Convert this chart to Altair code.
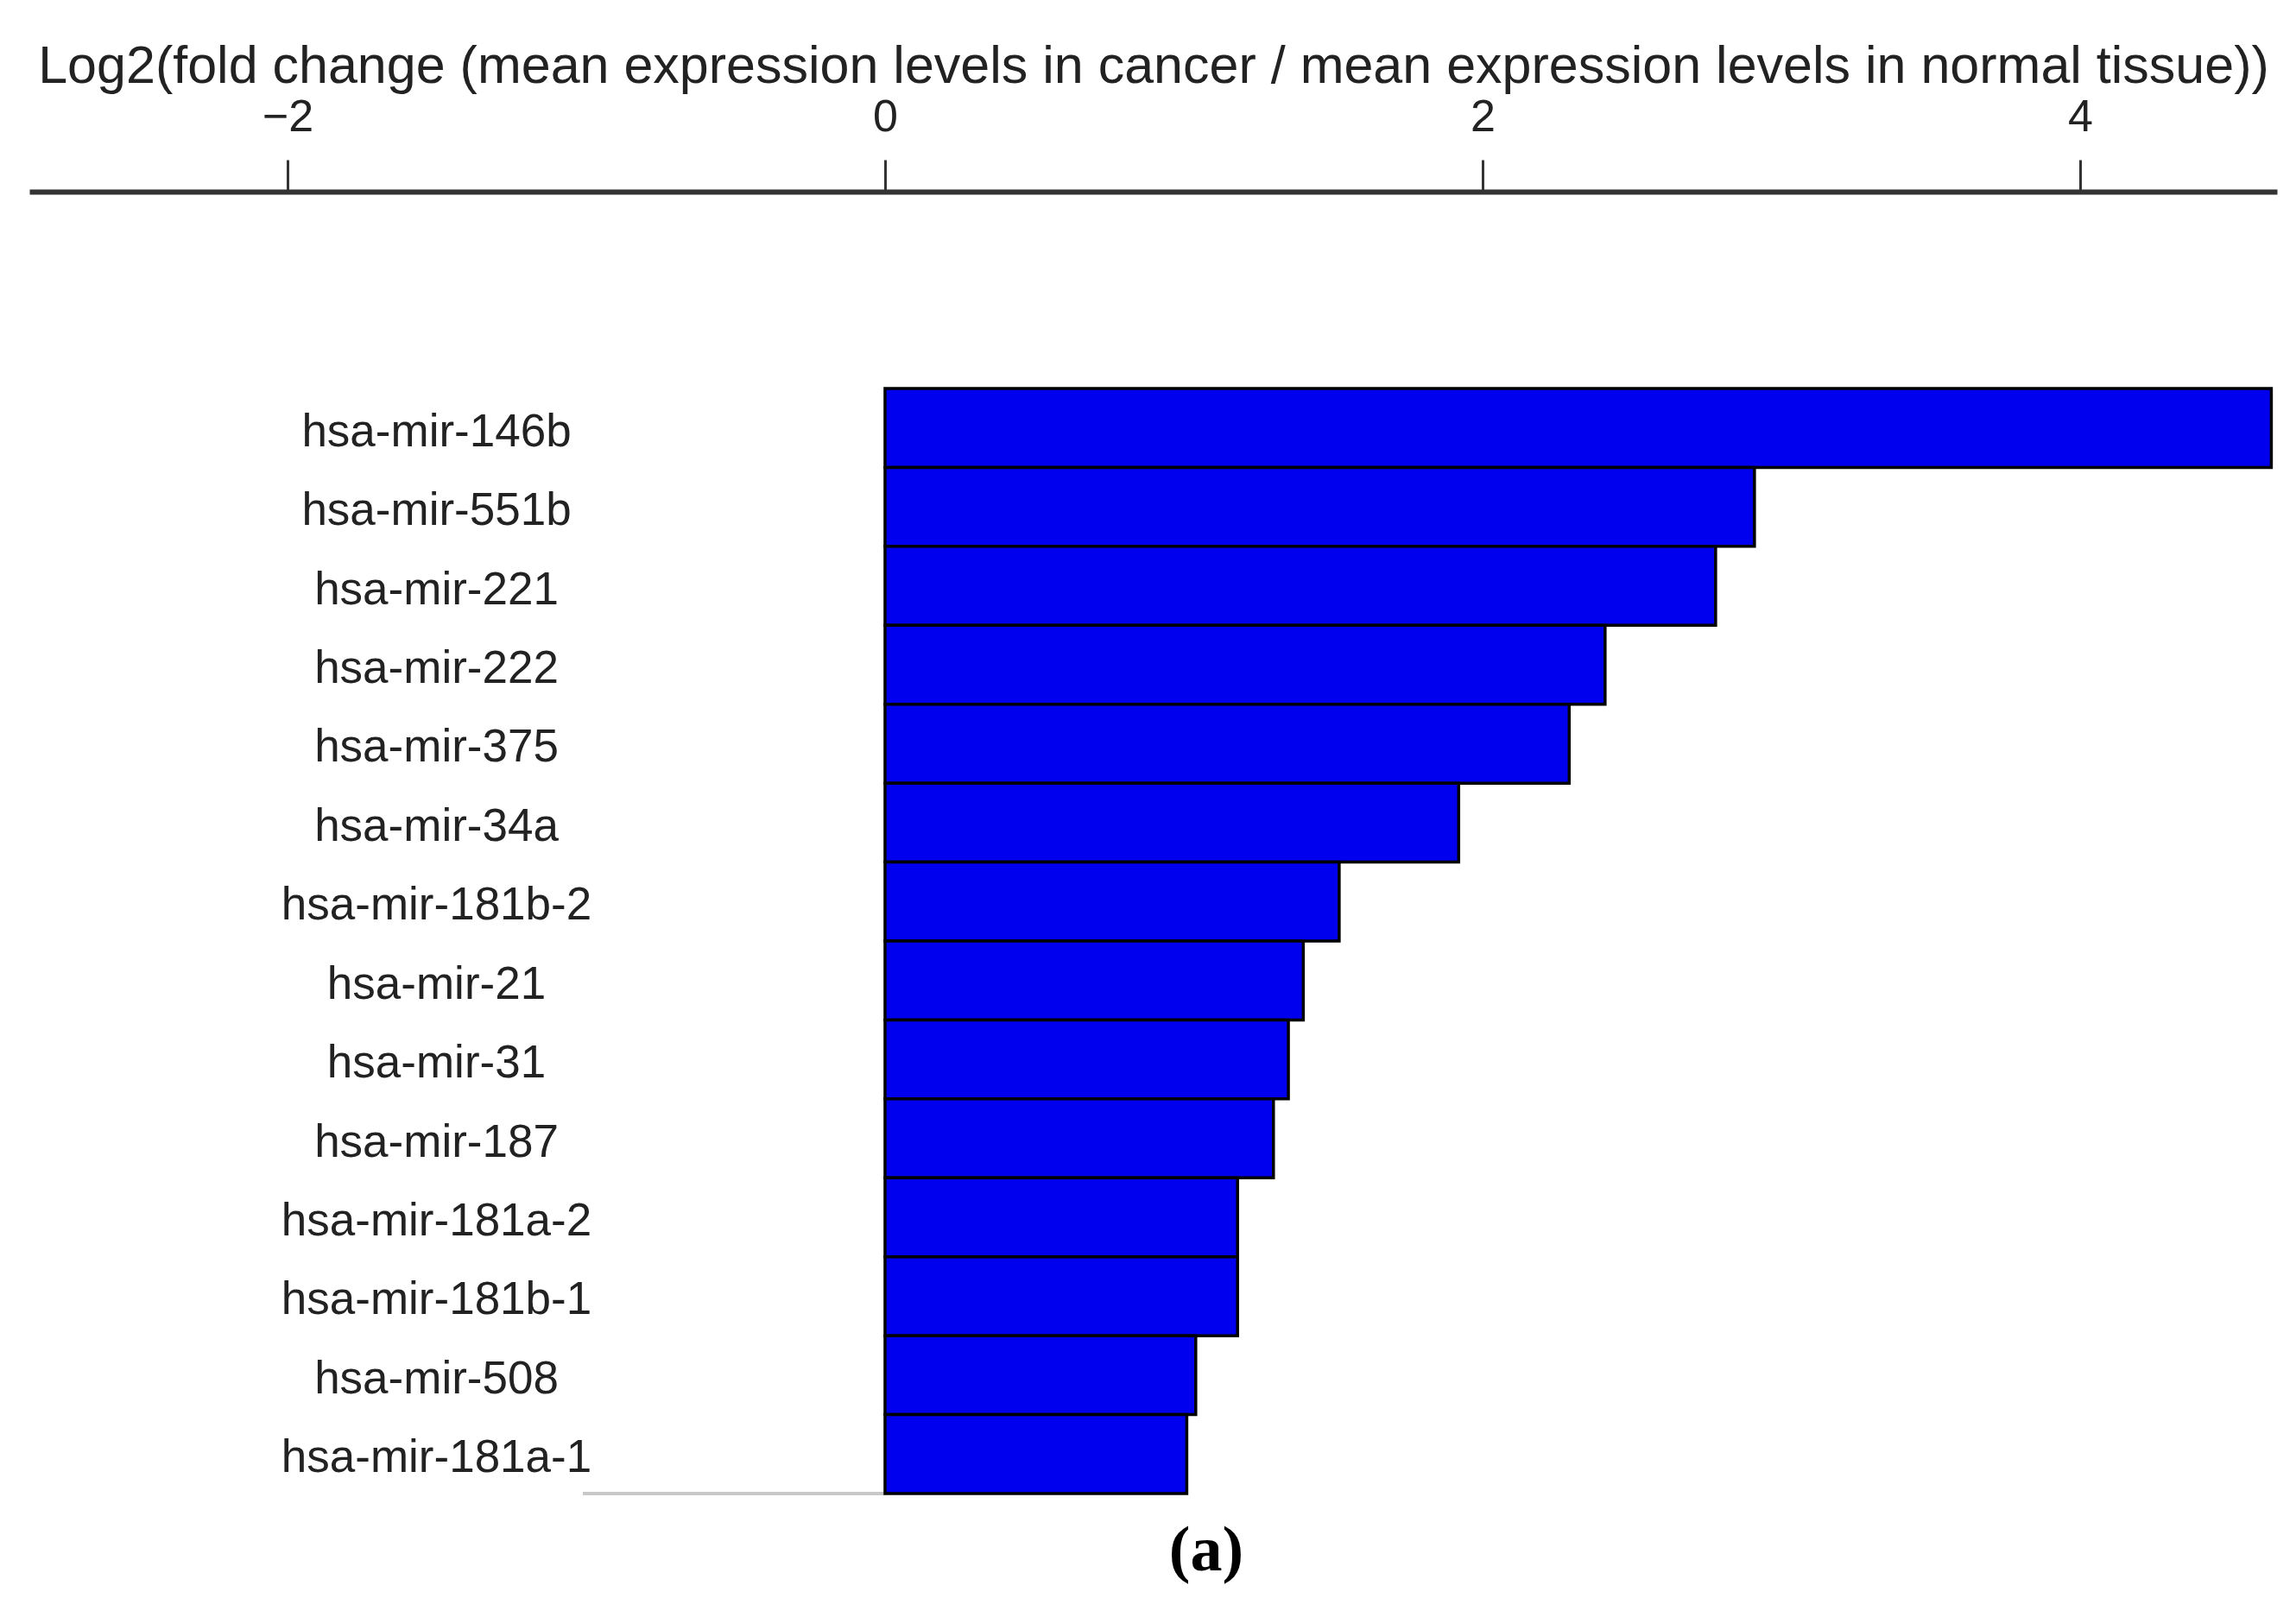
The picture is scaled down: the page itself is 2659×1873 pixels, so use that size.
import altair as alt
import pandas as pd

mirnas = ["hsa-mir-146b", "hsa-mir-551b", "hsa-mir-221", "hsa-mir-222", "hsa-mir-375",
          "hsa-mir-34a", "hsa-mir-181b-2", "hsa-mir-21", "hsa-mir-31", "hsa-mir-187",
          "hsa-mir-181a-2", "hsa-mir-181b-1", "hsa-mir-508", "hsa-mir-181a-1"]
log2fc = [4.64, 2.91, 2.78, 2.41, 2.29, 1.92, 1.52, 1.40, 1.35, 1.30,
          1.18, 1.18, 1.04, 1.01]
x_ticks = [-2, 0, 2, 4]
x_domain = [-2.864, 4.659]
x_title = "Log2(fold change (mean expression levels in cancer / mean expression levels in normal tissue))"
caption = "(a)"
baseline_start = -1.01

df = pd.DataFrame({"mirna": mirnas, "fc": log2fc})

W = 2603
H = 1280

bars = alt.Chart(df).mark_bar(color="#0000EE", stroke="#000000", strokeWidth=3.5).encode(
    x=alt.X("fc:Q",
            scale=alt.Scale(domain=x_domain, nice=False, zero=False),
            axis=alt.Axis(orient="top", values=x_ticks, format="d", offset=228, grid=False,
                          title=x_title, titleFont="Liberation Sans", titleFontSize=61,
                          titleFontWeight="normal", titleColor="#222222",
                          titleBaseline="alphabetic", titleY=-127,
                          labelFont="Liberation Sans", labelFontSize=52, labelColor="#222222",
                          labelBaseline="alphabetic", labelPadding=34,
                          domainColor="#333333", domainWidth=6,
                          tickColor="#333333", tickWidth=3, tickSize=37)),
    y=alt.Y("mirna:N", sort=mirnas,
            scale=alt.Scale(paddingInner=0, paddingOuter=0),
            axis=alt.Axis(orient="left", offset=-471, domain=False, ticks=False, title=None,
                          labelAlign="center", labelBaseline="middle", labelPadding=0,
                          labelLimit=0, labelOffset=5,
                          labelFont="Liberation Sans", labelFontSize=53, labelColor="#222222")),
)

base_line = alt.Chart(df).mark_rule(color="#c8c8c8", strokeWidth=3).encode(
    x=alt.datum(baseline_start), x2=alt.datum(0), y=alt.value(H)
)

cap = alt.Chart(pd.DataFrame({"t": [caption]})).mark_text(
    font="Liberation Serif", fontSize=74, fontWeight="bold", color="#000000",
    align="center", baseline="alphabetic"
).encode(text="t:N", x=alt.value(1363), y=alt.value(H + 89))

chart = alt.layer(base_line, bars, cap).properties(
    width=W, height=H,
    autosize=alt.AutoSizeParams(type="none"),
    padding={"left": 26, "top": 442, "right": 10, "bottom": 120},
    background="white",
).configure_view(strokeWidth=0, stroke=None)

chart.save("out.html", embed_options={"renderer": "svg", "actions": False})
